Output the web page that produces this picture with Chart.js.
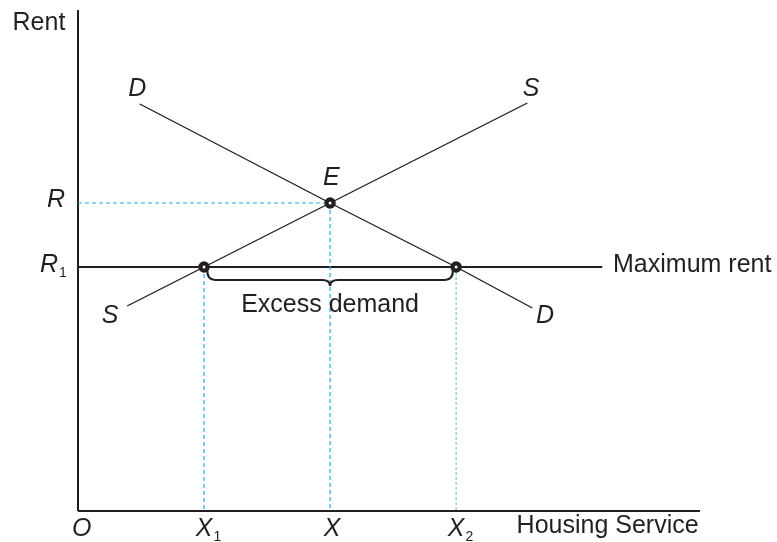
<!DOCTYPE html>
<html>
<head>
<meta charset="utf-8">
<script src="https://cdn.jsdelivr.net/npm/chart.js@4/dist/chart.umd.min.js"></script>
<style>
  body { margin: 0; background: #fff; }
  #wrap { width: 777px; height: 542px; position: relative; }
</style>
</head>
<body>
<div id="wrap"><canvas id="rent-canvas"></canvas></div>
<script>
// values (x: housing service, y: rent)
const xMax = 9.87;
const yMax = 10.02;
const X1 = 2.0, X = 4.0, X2 = 6.0;
const R = 6.16, R1 = 4.88;
const maxRentEnd = 8.32;
const demandX = [0.98, X, X2, 7.21];
const demandY = [8.14, R, R1, 4.06];
const supplyX = [0.78, X1, X, 7.13];
const supplyY = [4.10, R1, R, 8.16];
const markerX = [X1, X, X2];
const markerY = [R1, R, R1];

// text labels: [text, subscript, x, y, align, italic]
const labels = [
    ['Rent', '', -0.62, 9.76, 'center', false],
    ['D', '', 0.94, 8.44, 'center', true],
    ['S', '', 7.19, 8.44, 'center', true],
    ['E', '', 4.02, 6.66, 'center', true],
    ['R', '', -0.35, 6.22, 'center', true],
    ['R', '1', -0.46, 4.92, 'center', true],
    ['S', '', 0.51, 3.90, 'center', true],
    ['D', '', 7.41, 3.90, 'center', true],
    ['Excess demand', '', 4.0, 4.12, 'center', false],
    ['Maximum rent', '', 8.49, 4.92, 'left', false],
    ['O', '', 0.06, -0.36, 'center', true],
    ['X', '1', 2.0, -0.36, 'center', true],
    ['X', '', 4.03, -0.36, 'center', true],
    ['X', '2', 6.0, -0.36, 'center', true],
    ['Housing Service', '', 6.96, -0.30, 'left', false]
];

const ink = '#231f20';
const blue = '#1fa9e6';

function pts(xs, ys){
    return xs.map(function (v, i){ return {x: v, y: ys[i]}; });
}

const textPlugin = {
    id: 'textPlugin',
    afterDatasetsDraw: function (chart){
        const ctx = chart.ctx;
        const sx = chart.scales.x, sy = chart.scales.y;
        ctx.save();
        // brace under the maximum rent line
        const x1 = sx.getPixelForValue(X1 + 0.05);
        const x2 = sx.getPixelForValue(X2 - 0.05);
        const xm = sx.getPixelForValue(X);
        const y0 = sy.getPixelForValue(R1) + 3;
        const d = 10, r = 8, tip = 6;
        ctx.strokeStyle = ink;
        ctx.lineWidth = 2.2;
        ctx.beginPath();
        ctx.moveTo(x1, y0);
        ctx.quadraticCurveTo(x1, y0 + d, x1 + r, y0 + d);
        ctx.lineTo(xm - r, y0 + d);
        ctx.quadraticCurveTo(xm, y0 + d, xm, y0 + d + tip);
        ctx.quadraticCurveTo(xm, y0 + d, xm + r, y0 + d);
        ctx.lineTo(x2 - r, y0 + d);
        ctx.quadraticCurveTo(x2, y0 + d, x2, y0);
        ctx.stroke();

        ctx.fillStyle = ink;
        ctx.textBaseline = 'middle';
        labels.forEach(function (l){
            const px = sx.getPixelForValue(l[2]);
            const py = sy.getPixelForValue(l[3]);
            ctx.font = (l[5] ? 'italic ' : '') + '25px "Liberation Sans", Arial, sans-serif';
            ctx.textAlign = l[4];
            ctx.fillText(l[0], px, py);
            if (l[1]){
                const w = ctx.measureText(l[0]).width;
                ctx.font = '14px "Liberation Sans", Arial, sans-serif';
                ctx.textAlign = 'left';
                ctx.fillText(l[1], px + w / 2 + 1, py + 8);
            }
        });
        ctx.restore();
    }
};

const line = function (data, color, width, dash){
    return {
        type: 'line',
        data: data,
        borderColor: color,
        borderWidth: width,
        borderDash: dash || [],
        pointRadius: 0,
        fill: false,
        tension: 0,
        clip: false
    };
};

new Chart(document.getElementById('rent-canvas'), {
    type: 'scatter',
    data: {
        datasets: [
            line(pts([0, X], [R, R]), blue, 1.2, [4, 3]),
            line(pts([X1, X1], [R1, 0]), blue, 1.2, [4, 3]),
            line(pts([X, X], [R, 0]), blue, 1.2, [4, 3]),
            line(pts([X2, X2], [R1, 0]), '#5aaad6', 0.9, [3, 2]),
            line(pts([0, maxRentEnd], [R1, R1]), ink, 2),
            line(pts(demandX, demandY), ink, 1.4),
            line(pts(supplyX, supplyY), ink, 1.4),
            line(pts([0, 0], [0, yMax]), ink, 2),
            line(pts([0, xMax], [0, 0]), ink, 2),
            {
                type: 'scatter',
                order: -1,
                data: pts(markerX, markerY),
                pointRadius: 3.6,
                pointHoverRadius: 3.6,
                pointBorderWidth: 4.2,
                pointBackgroundColor: '#ffffff',
                pointBorderColor: ink,
                clip: false
            }
        ]
    },
    options: {
        responsive: true,
        maintainAspectRatio: false,
        animation: false,
        layout: { padding: { left: 78, right: 77, top: 10, bottom: 31 } },
        plugins: { legend: { display: false }, tooltip: { enabled: false } },
        scales: {
            x: { type: 'linear', min: 0, max: xMax, display: false },
            y: { type: 'linear', min: 0, max: yMax, display: false }
        }
    },
    plugins: [textPlugin]
});
</script>
</body>
</html>
